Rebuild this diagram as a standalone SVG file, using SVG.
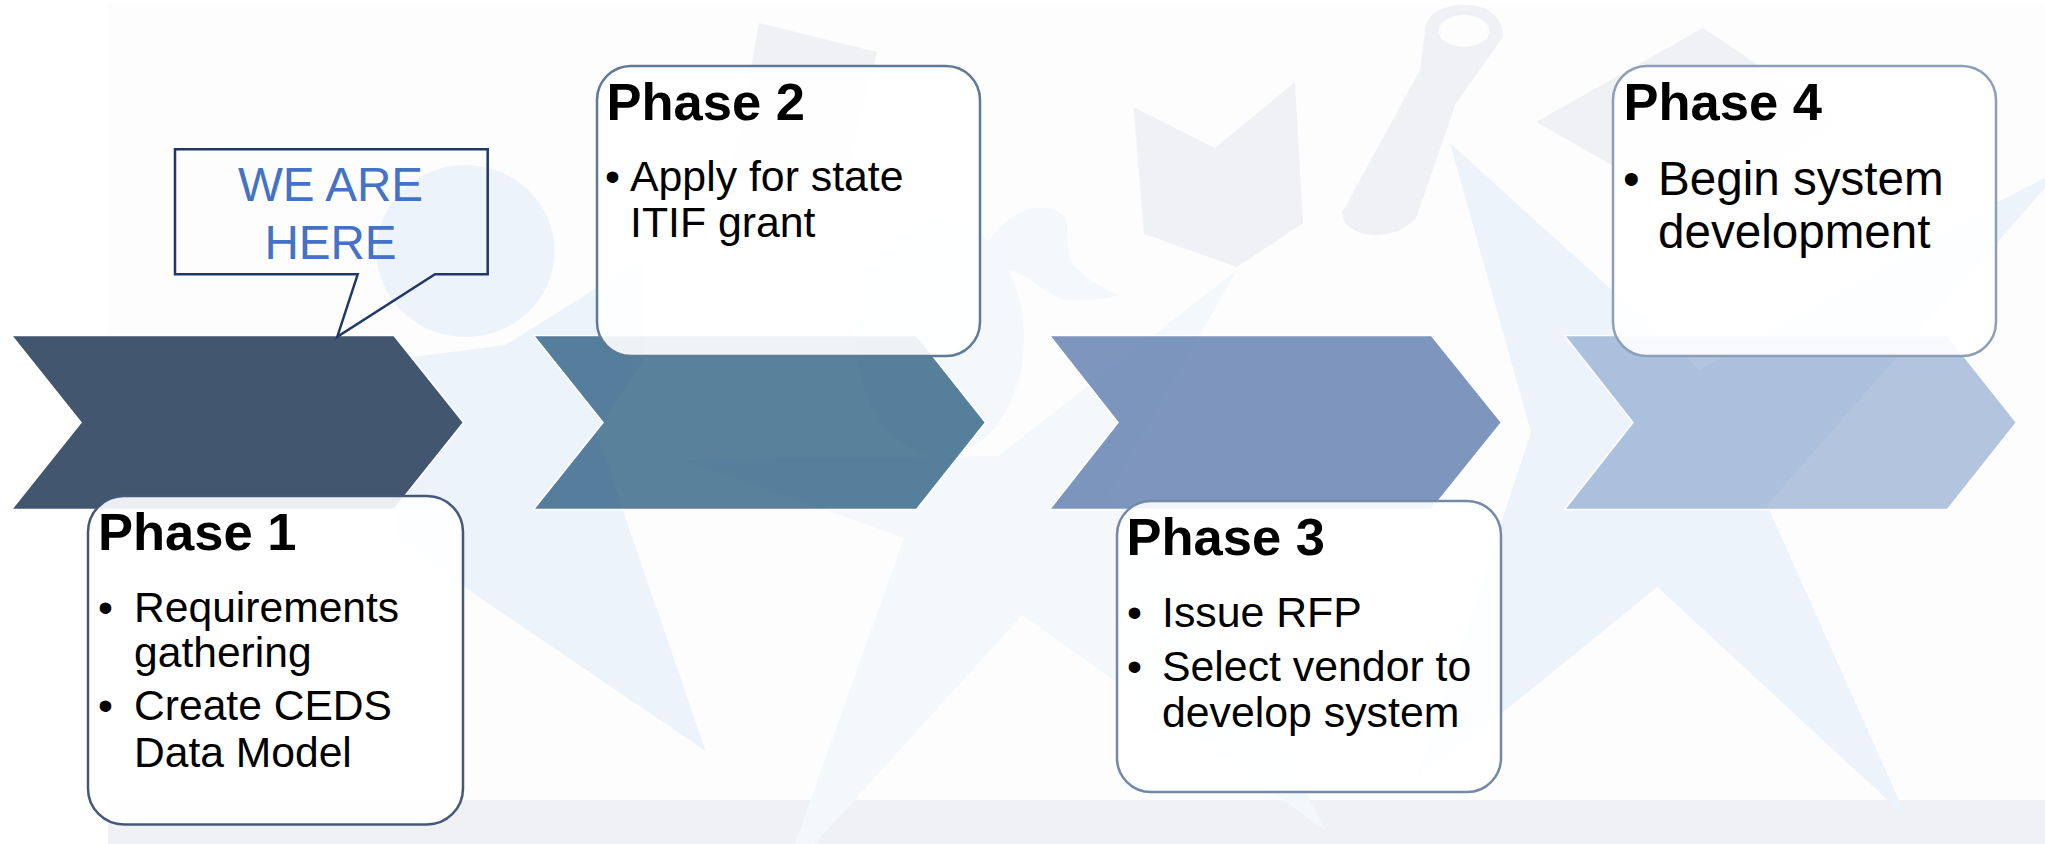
<svg xmlns="http://www.w3.org/2000/svg" width="2045" height="844" viewBox="0 0 2045 844">
<style>
.gray{fill:#eff1f5}
.blue{fill:#ecf3fa}
.faint{fill:#f4f8fb}
.chev{stroke:#fff;stroke-width:1.5}
.box{fill:#fff;fill-opacity:.9;stroke-width:2.5}
text{font-family:"Liberation Sans",Arial,sans-serif;fill:#000}
.h{font-size:52.500px;font-weight:700}
.b1{font-size:42.600px}
.b2{font-size:42.800px}
.b4{font-size:47.600px}
.callout-text{font-size:47.600px;fill:#4472c4;text-anchor:middle}
</style>
<rect width="2045" height="844" fill="#fff"/>
<g id="background">
<rect x="108" y="5" width="1937" height="839" fill="#fdfdfe"/>
<rect class="gray" x="108" y="800" width="1937" height="44"/>
<polygon class="gray" points="759,23 877,52 840,200 730,180"/>
<polygon class="gray" points="1133.5,107 1215,148 1295,82 1303,223 1237,267 1144,234"/>
<polygon class="gray" points="1703,28 1536,122 1700,215 1840,120"/>
<path class="gray" fill-rule="evenodd" d="M1425 30C1427 12 1445 5 1464 5C1490 5 1503 18 1503 37L1456 103L1416 218C1405 230 1390 235 1376 235C1355 235 1343 225 1342 213L1420 70ZM1464 15a25.500 16 0 1 0 .1 0Z"/>
<ellipse class="faint" cx="940" cy="338" rx="84" ry="118"/>
<path class="faint" d="M984 248C1000 222 1020 208 1039 208C1058 208 1068 215 1067 227L1069 257C1075 272 1100 288 1120 295C1100 300 1085 301 1067 300C1055 298 1045 290 1035 283C1022 272 1005 268 990 270Z"/>
<polygon class="faint" points="685,460 998,456 1237,270 1108,495 1230,640 1325,830 1022,615 782,880 904,538"/>
<ellipse class="blue" cx="465.500" cy="251" rx="89" ry="86"/>
<polygon class="blue" points="413,357 505,345 645,258 645,357 596,432 705.500,751 473,593 400,540 380,440"/>
<polygon class="blue" points="1450,143 1700,370 1996,203 2045,178 2045,188 1767,505 1907,818 1657.500,587 1502,713 1415,780 1502,520 1531,432"/>
</g>
<g id="connectors"></g>
<g id="chevron-1"><polygon class="chev" fill="#425670" points="11.500,335.500 394,335.500 463.500,422.500 394,509.500 11.500,509.500 81,422.500"/></g>
<g id="chevron-2"><polygon class="chev" fill="#21577b" fill-opacity=".75" points="533.500,335.500 916.500,335.500 985.500,422.500 916.500,509.500 533.500,509.500 603,422.500"/></g>
<g id="chevron-3"><polygon class="chev" fill="#5e7cae" fill-opacity=".8" points="1049.500,335.500 1431.500,335.500 1501.500,422.500 1431.500,509.500 1049.500,509.500 1118,422.500"/></g>
<g id="chevron-4"><polygon class="chev" fill="#809ec8" fill-opacity=".6" points="1564.500,335.500 1947.500,335.500 2016.500,422.500 1947.500,509.500 1564.500,509.500 1633,422.500"/></g>
<g id="phase-1">
<rect class="box" x="88" y="496" width="375" height="328.500" rx="36" stroke="#44597a"/>
<text class="h" x="98" y="550">Phase 1</text>
<text class="b1" x="98" y="622">•</text>
<text class="b1" x="134" y="621.500">Requirements</text>
<text class="b1" x="134" y="667">gathering</text>
<text class="b1" x="98" y="720">•</text>
<text class="b1" x="134" y="720">Create CEDS</text>
<text class="b1" x="134" y="767">Data Model</text>
</g>
<g id="phase-2">
<rect class="box" x="597" y="66" width="383" height="290" rx="34" stroke="#5e7a95"/>
<text class="h" x="606.500" y="119.500">Phase 2</text>
<text class="b2" x="605" y="191">•</text>
<text class="b2" x="630" y="191">Apply for state</text>
<text class="b2" x="630" y="237">ITIF grant</text>
</g>
<g id="phase-3">
<rect class="box" x="1117" y="501" width="384" height="291" rx="34" stroke="#7389a8"/>
<text class="h" x="1126.500" y="555">Phase 3</text>
<text class="b2" x="1127" y="627">•</text>
<text class="b2" x="1162" y="627">Issue RFP</text>
<text class="b2" x="1127" y="681">•</text>
<text class="b2" x="1162" y="681">Select vendor to</text>
<text class="b2" x="1162" y="726.500">develop system</text>
</g>
<g id="phase-4">
<rect class="box" x="1613" y="66" width="383" height="290" rx="34" stroke="#8ba0b8"/>
<text class="h" x="1623.500" y="119.500">Phase 4</text>
<text class="b4" x="1623" y="195">•</text>
<text class="b4" x="1658" y="195">Begin system</text>
<text class="b4" x="1658" y="247.500">development</text>
</g>
<g id="we-are-here">
<path d="M175 149.300H487.700V274.300H435L337.300 336.700L357.700 274.300H175Z" fill="none" stroke="#1f3864" stroke-width="2.500"/>
<text class="callout-text" x="330.500" y="201">WE ARE</text>
<text class="callout-text" x="330.500" y="259">HERE</text>
</g>
</svg>
